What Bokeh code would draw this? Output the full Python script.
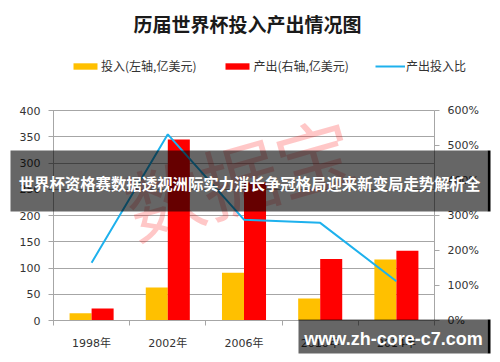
import numpy as np
from bokeh.plotting import figure
from bokeh.models import (Range1d, LinearAxis, FixedTicker, PrintfTickFormatter,
                          Legend, LegendItem, Label, BoxAnnotation, ColumnDataSource)
from bokeh.transform import dodge
from bokeh.embed import file_html
from bokeh.resources import INLINE

# ---------------- data ----------------
title_text = "历届世界杯投入产出情况图"
years = ["1998年", "2002年", "2006年", "2010年", "2014年"]
invest = [14, 63, 91, 42, 116]          # 投入 (亿美元)
output = [23, 345, 263, 117, 133]       # 产出 (亿美元)
ratio = [165, 532, 288, 279, 112]       # 产出投入比 (%)
legend_labels = ["投入(左轴,亿美元)", "产出(右轴,亿美元)", "产出投入比"]
left_ticks = [0, 50, 100, 150, 200, 250, 300, 350, 400]
right_ticks = [0, 100, 200, 300, 400, 500, 600]
banner_text = "世界杯资格赛数据透视洲际实力消长争冠格局迎来新变局走势解析全"
site_text = "www.zh-core-c7.com"
watermark_text = "数据宝"

# ---------------- styles / layout ----------------
ORANGE = "#FFC000"
RED = "#FF0000"
BLUE = "#1EB1ED"
GRID = "#A6A6A6"
TXT = "#333333"
FONT = "DejaVu Sans, Noto Sans CJK SC"
CJK = "Noto Sans CJK SC"

W, H = 492, 354
PX_L, PX_R, PX_B, PX_T = 53, 434, 320, 110   # plot area in canvas pixels
LMAX, RMAX = left_ticks[-1], right_ticks[-1]

n = len(years)
centers = [i + 0.5 for i in range(n)]
src = ColumnDataSource(dict(x=centers, invest=invest, output=output, ratio=ratio))

xpu = (PX_R - PX_L) / n
ypu = (PX_B - PX_T) / LMAX
rpu = (PX_B - PX_T) / RMAX

p = figure(width=W, height=H, output_backend="svg", toolbar_location=None,
           x_range=Range1d(-PX_L / xpu, n + (W - PX_R) / xpu),
           y_range=Range1d(-(H - PX_B) / ypu, LMAX + PX_T / ypu),
           min_border=0)
p.min_border_left = 0
p.min_border_right = 0
p.min_border_top = 0
p.min_border_bottom = 0
p.outline_line_color = None
p.background_fill_color = "white"
p.border_fill_color = "white"
p.xgrid.visible = False
p.ygrid.visible = False

p.extra_y_ranges = {"pct": Range1d(-(H - PX_B) / rpu, RMAX + PX_T / rpu)}

# watermark (behind bars)
p.add_layout(Label(x=238, y=H - 175, x_units="screen", y_units="screen",
                   text=watermark_text, text_align="center", text_baseline="middle",
                   angle=0.28, text_font=CJK, text_font_size="78px",
                   text_color=RED, text_alpha=0.22, level="underlay"))

# left axis (its inward ticks double as the horizontal gridlines)
ya = p.yaxis[0]
ya.fixed_location = 0
ya.bounds = (0, LMAX)
ya.level = "underlay"
ya.ticker = FixedTicker(ticks=left_ticks)
ya.major_tick_out = 5
ya.major_tick_in = PX_R - PX_L
ya.minor_tick_line_color = None
ya.major_tick_line_color = GRID
ya.axis_line_color = GRID
ya.major_label_standoff = 8
ya.major_label_text_font = FONT
ya.major_label_text_font_size = "11px"
ya.major_label_text_color = TXT

bw = 0.289
r_inv = p.vbar(x=dodge("x", -bw / 2, range=p.x_range), top="invest", width=bw,
               source=src, fill_color=ORANGE, line_color=None)
r_out = p.vbar(x=dodge("x", bw / 2, range=p.x_range), top="output", width=bw,
               source=src, fill_color=RED, line_color=None)
r_ratio = p.line(x="x", y="ratio", y_range_name="pct", source=src,
                 line_color=BLUE, line_width=2)

# x axis
xa = p.xaxis[0]
xa.fixed_location = 0
xa.bounds = (0, n)
xa.ticker = FixedTicker(ticks=centers, minor_ticks=list(range(n + 1)))
xa.major_label_overrides = {c: y for c, y in zip(centers, years)}
xa.major_tick_out = 0
xa.major_tick_in = 0
xa.minor_tick_out = 5
xa.minor_tick_in = 0
xa.minor_tick_line_color = GRID
xa.axis_line_color = GRID
xa.major_label_standoff = 11
xa.major_label_text_font = FONT
xa.major_label_text_font_size = "11px"
xa.major_label_text_color = TXT

# right axis
ra = LinearAxis(y_range_name="pct", ticker=FixedTicker(ticks=right_ticks),
                formatter=PrintfTickFormatter(format="%d%%"))
ra.fixed_location = n
ra.bounds = (0, RMAX)
ra.major_tick_out = 5
ra.major_tick_in = 0
ra.minor_tick_line_color = None
ra.major_tick_line_color = GRID
ra.axis_line_color = GRID
ra.major_label_standoff = 8
ra.major_label_text_font = FONT
ra.major_label_text_font_size = "11px"
ra.major_label_text_color = TXT
p.add_layout(ra, "right")

# legend
legend = Legend(items=[LegendItem(label=legend_labels[0], renderers=[r_inv]),
                       LegendItem(label=legend_labels[1], renderers=[r_out]),
                       LegendItem(label=legend_labels[2], renderers=[r_ratio])],
                orientation="horizontal", location=(70, H - 74),
                glyph_width=30, glyph_height=8, label_height=14, label_standoff=1,
                spacing=26, padding=0, margin=0, border_line_color=None,
                background_fill_alpha=0, label_text_font=CJK,
                label_text_font_size="12px", label_text_color=TXT)
p.add_layout(legend)

# title
p.add_layout(Label(x=247, y=H - 23, x_units="screen", y_units="screen", text=title_text,
                   text_align="center", text_baseline="middle", text_font=CJK,
                   text_font_size="19px", text_font_style="bold",
                   text_color="#1A1A1A"))


def box(l, r, t, b, alpha):
    return BoxAnnotation(left=l, right=r, top=H - t, bottom=H - b,
                         left_units="screen", right_units="screen",
                         top_units="screen", bottom_units="screen",
                         fill_color="black", fill_alpha=alpha, line_color=None,
                         level="overlay")


# banner overlay
p.add_layout(box(10, 487, 150, 211, 0.6))
p.add_layout(box(487, 490, 150, 211, 1.0))
p.add_layout(Label(x=249, y=H - 182, x_units="screen", y_units="screen",
                   text=banner_text, text_align="center", text_baseline="middle",
                   text_font=CJK, text_font_size="15.4px", text_font_style="bold",
                   text_color="white", level="overlay"))

# site box
p.add_layout(box(298, 487, 319, 353, 0.6))
p.add_layout(box(487, 490, 319, 353, 1.0))
p.add_layout(Label(x=393, y=H - 338, x_units="screen", y_units="screen",
                   text=site_text, text_align="center", text_baseline="middle",
                   text_font="Liberation Sans", text_font_size="18px",
                   text_font_style="bold", text_color="white", level="overlay"))

open("out.html", "w").write(file_html(p, INLINE))
